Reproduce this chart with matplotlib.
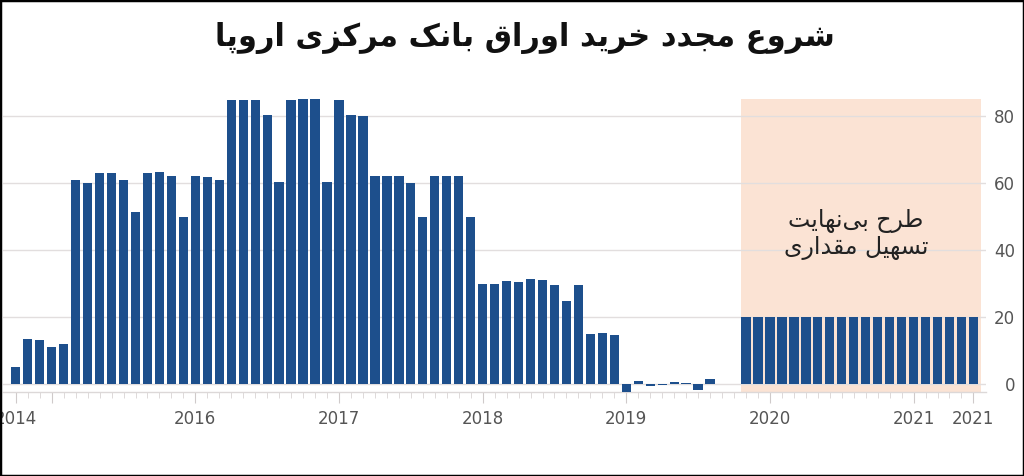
import numpy as np
import matplotlib
matplotlib.use('Agg')
import matplotlib.pyplot as plt
from matplotlib.patches import Rectangle

# Dados: compras líquidas mensais do BCE (bilhões de euros), out/2014 a jun/2021
compras = [5, 13.3, 13.2, 11.1, 12,
           61, 60, 63, 63, 61, 51.5, 63, 63.5, 62.3, 50,
           62.2, 62, 61, 85, 85, 85, 80.5, 60.5, 85, 85.3, 85.3, 60.5,
           85, 80.3, 80, 62.3, 62.3, 62.3, 60, 50, 62.3, 62.3, 62.3, 50,
           30, 30, 30.8, 30.5, 31.5, 31, 29.7, 24.8, 29.5, 15, 15.2, 14.7,
           -2.5, 0.8, -0.6, -0.4, 0.6, 0.2, -1.8, 1.4, np.nan, np.nan,
           20, 20, 20, 20, 20, 20, 20, 20, 20, 20,
           20, 20, 20, 20, 20, 20, 20, 20, 20, 20]
inicio_qe = 61  # nov/2019: início do programa sem prazo

rotulos_pos = [0, 3, 15, 27, 39, 51, 63, 75, 80]
rotulos_txt = ['2014', '', '2016', '2017', '2018', '2019', '2020', '2021', '2021']
yticks = [0, 20, 40, 60, 80]

titulo = 'شروع مجدد خرید اوراق بانک مرکزی اروپا'
nota = 'طرح بی\u200cنهایت\nتسهیل مقداری'

# Formas de apresentação (isolada, final, inicial, medial)
FORMAS = {
    'ا': ('\uFE8D', '\uFE8E', None, None),
    'ب': ('\uFE8F', '\uFE90', '\uFE91', '\uFE92'),
    'پ': ('\uFB56', '\uFB57', '\uFB58', '\uFB59'),
    'ت': ('\uFE95', '\uFE96', '\uFE97', '\uFE98'),
    'ج': ('\uFE9D', '\uFE9E', '\uFE9F', '\uFEA0'),
    'ح': ('\uFEA1', '\uFEA2', '\uFEA3', '\uFEA4'),
    'خ': ('\uFEA5', '\uFEA6', '\uFEA7', '\uFEA8'),
    'د': ('\uFEA9', '\uFEAA', None, None),
    'ر': ('\uFEAD', '\uFEAE', None, None),
    'ز': ('\uFEAF', '\uFEB0', None, None),
    'س': ('\uFEB1', '\uFEB2', '\uFEB3', '\uFEB4'),
    'ش': ('\uFEB5', '\uFEB6', '\uFEB7', '\uFEB8'),
    'ط': ('\uFEC1', '\uFEC2', '\uFEC3', '\uFEC4'),
    'ع': ('\uFEC9', '\uFECA', '\uFECB', '\uFECC'),
    'ق': ('\uFED5', '\uFED6', '\uFED7', '\uFED8'),
    'ک': ('\uFB8E', '\uFB8F', '\uFB90', '\uFB91'),
    'ل': ('\uFEDD', '\uFEDE', '\uFEDF', '\uFEE0'),
    'م': ('\uFEE1', '\uFEE2', '\uFEE3', '\uFEE4'),
    'ن': ('\uFEE5', '\uFEE6', '\uFEE7', '\uFEE8'),
    'ه': ('\uFEE9', '\uFEEA', '\uFEEB', '\uFEEC'),
    'و': ('\uFEED', '\uFEEE', None, None),
    'ی': ('\uFBFC', '\uFBFD', '\uFBFE', '\uFBFF'),
}


def moldar(linha):
    # escolhe a forma de cada letra e inverte (matplotlib desenha da esquerda p/ direita)
    saida = []
    for i, c in enumerate(linha):
        if c not in FORMAS:
            saida.append(c)
            continue
        ant = linha[i - 1] if i > 0 else None
        prox = linha[i + 1] if i + 1 < len(linha) else None
        liga_ant = ant in FORMAS and FORMAS[ant][2] is not None
        liga_prox = FORMAS[c][2] is not None and prox in FORMAS
        iso, fin, ini, med = FORMAS[c]
        if liga_ant and liga_prox:
            saida.append(med)
        elif liga_ant:
            saida.append(fin)
        elif liga_prox:
            saida.append(ini)
        else:
            saida.append(iso)
    return ''.join(saida).replace('\u200c', '')[::-1]


def rtl(texto):
    return '\n'.join(moldar(l) for l in texto.split('\n'))


W, H = 1024, 476
fig = plt.figure(figsize=(W / 100, H / 100), dpi=100)
ax = fig.add_axes([3 / W, (H - 392) / H, 983 / W, 295 / H])

x = np.arange(len(compras))
largura = 0.78
ax.set_xlim(-1.07, 81.05)
ax.set_ylim(-2.4, 85.8)

# faixa do programa
ax.add_patch(Rectangle((inicio_qe - largura / 2, -2.4), len(compras) - inicio_qe, 85.3 + 2.4,
                       facecolor='#fbe3d4', edgecolor='none', zorder=0))

ax.bar(x, compras, width=largura, color='#1d4f8c', zorder=3)

ax.set_yticks(yticks)
ax.grid(axis='y', color='#e2dede', linewidth=1, zorder=1)
ax.set_axisbelow(True)
ax.yaxis.tick_right()
ax.tick_params(axis='y', length=0, pad=21, labelsize=12, labelcolor='#555555')
for lb in ax.get_yticklabels():
    lb.set_horizontalalignment('right')

ax.set_xticks(x, minor=True)
ax.set_xticks(rotulos_pos)
ax.set_xticklabels(rotulos_txt)
ax.tick_params(axis='x', which='major', length=8, color='#cfcaca', labelsize=12,
               labelcolor='#555555', pad=5)
ax.tick_params(axis='x', which='minor', length=4, color='#d8d3d3')

for s in ['top', 'left', 'right']:
    ax.spines[s].set_visible(False)
ax.spines['bottom'].set_color('#dcd8d8')
ax.spines['bottom'].set_linewidth(1)

ax.text(70.2, 44.8, rtl(nota), ha='center', va='center', fontsize=17,
        family=['DejaVu Sans'], color='#222222', linespacing=1.1, zorder=4)

fig.text(0.513, 0.92, rtl(titulo), ha='center', va='center', fontsize=22,
         fontweight='bold', family=['DejaVu Sans'], color='#111111')

fig.add_artist(Rectangle((0, 0), 1, 1, transform=fig.transFigure, fill=False,
                         edgecolor='black', linewidth=2.5))

fig.savefig('out.png', dpi=100)
